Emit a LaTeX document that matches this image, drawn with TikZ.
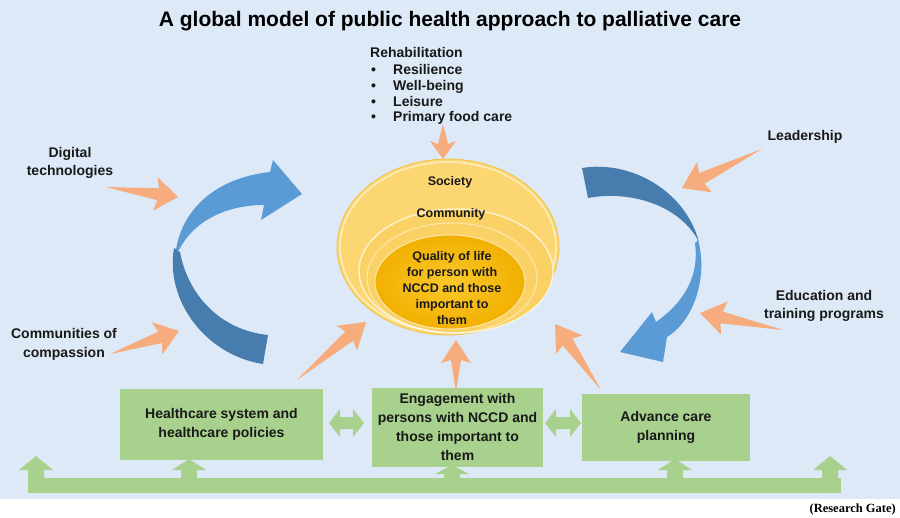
\documentclass[tikz,border=0pt]{standalone}
\usepackage{fontspec}
\setmainfont{Liberation Sans}
\newfontfamily\serifRG{Liberation Serif}
\usetikzlibrary{calc}
\definecolor{bg}{RGB}{221,233,246}
\definecolor{peach}{RGB}{246,172,124}
\definecolor{greenbox}{RGB}{169,209,142}
\definecolor{bluelight}{RGB}{90,155,213}
\definecolor{bluedark}{RGB}{70,124,174}
\definecolor{yelouter}{RGB}{252,214,112}
\definecolor{yeledge}{RGB}{238,196,80}
\definecolor{yelmid}{RGB}{250,209,100}
\definecolor{orinner}{RGB}{242,176,0}
\definecolor{orlight}{RGB}{250,200,45}

% orange tapered arrow: tail, tip, head length, head half width, shaft half width
\newcommand\oarrow[5]{%
  \fill[peach] (#1) -- ($(#2)!#3!(#1)!#5!90:(#1)$) -- ($(#2)!#3+3pt!(#1)!#4!90:(#1)$) -- (#2)
   -- ($(#2)!#3+3pt!(#1)!#4!-90:(#1)$) -- ($(#2)!#3!(#1)!#5!-90:(#1)$) -- cycle;}
% green up arrow on the bus: x, top y, head base y
\newcommand\uparr[3]{%
  \fill[greenbox] ({#1-8},480) -- ({#1-8},#3) -- ({#1-17},#3) -- (#1,#2)
   -- ({#1+17},#3) -- ({#1+8},#3) -- ({#1+8},480) -- cycle;}
% green double arrow: left x, right x, centre y
\newcommand\dblarr[3]{%
  \fill[greenbox] (#1,#3) -- ({#1+11},{#3-14}) -- ({#1+11},{#3-6}) -- ({#2-11},{#3-6})
   -- ({#2-11},{#3-14}) -- (#2,#3) -- ({#2-11},{#3+14}) -- ({#2-11},{#3+6})
   -- ({#1+11},{#3+6}) -- ({#1+11},{#3+14}) -- cycle;}

\tikzset{
  lbl/.style={font=\bfseries\fontsize{14}{17}\selectfont, inner sep=0pt, text=black!90},
  ell/.style={font=\bfseries\fontsize{12.5}{15.8}\selectfont, inner sep=0pt, text=black!90},
  greenbox/.style={fill=greenbox, draw=none, inner sep=2pt, align=center,
     font=\bfseries\fontsize{14}{19}\selectfont, text=black!90},
}

\begin{document}
\begin{tikzpicture}[x=1pt,y=-1pt]
\useasboundingbox (0,0) rectangle (900,517);
\fill[white] (0,0) rectangle (900,517);
\fill[bg] (0,0) rectangle (900,499);

% title
\node[font=\bfseries\fontsize{21}{24}\selectfont, inner sep=0pt, anchor=base] (title) at (450,26)
  {A global model of public health approach to palliative care};

% rehabilitation list
\node[lbl, anchor=base west] (rehab) at (370,57) {Rehabilitation};
\node[lbl, anchor=base west] (b1) at (371,74) {\textbullet};
\node[lbl, anchor=base west] (r1) at (393,74) {Resilience};
\node[lbl, anchor=base west] (b2) at (371,90) {\textbullet};
\node[lbl, anchor=base west] (r2) at (393,90) {Well-being};
\node[lbl, anchor=base west] (b3) at (371,106) {\textbullet};
\node[lbl, anchor=base west] (r3) at (393,106) {Leisure};
\node[lbl, anchor=base west] (b4) at (371,121) {\textbullet};
\node[lbl, anchor=base west] (r4) at (393,121) {Primary food care};

% side labels
\node[lbl, anchor=base] (dig1) at (70,157) {Digital};
\node[lbl, anchor=base] (dig2) at (70,175) {technologies};
\node[lbl, anchor=base] (com1) at (64,338) {Communities of};
\node[lbl, anchor=base] (com2) at (64,357) {compassion};
\node[lbl, anchor=base] (lead) at (805,140) {Leadership};
\node[lbl, anchor=base] (edu1) at (824,300) {Education and};
\node[lbl, anchor=base] (edu2) at (824,318) {training programs};

% bottom bus
\coordinate (busL) at (28,478);
\coordinate (busR) at (841,493);
\fill[greenbox] (busL) rectangle (busR);
\uparr{36}{456}{470}
\uparr{189}{459}{470}
\uparr{452}{465}{474}
\uparr{675}{459}{470}
\uparr{830}{456}{470}

% boxes
\node[greenbox, minimum width=203pt, minimum height=71pt] (hc) at (221.5,424)
  {Healthcare system and\\healthcare policies};
\node[greenbox, minimum width=171pt, minimum height=79pt] (eng) at (457.5,427)
  {Engagement with\\persons with NCCD and\\those important to\\them};
\node[greenbox, minimum width=168pt, minimum height=67pt] (acp) at (666,427.5)
  {Advance care\\planning};

% double arrows between boxes
\dblarr{329}{364}{423}
\dblarr{545}{581}{423}

% ellipses
\coordinate (outerC) at (448,247);
\coordinate (midC) at (456,271);
\coordinate (innerC) at (450,282);
\fill[yelouter] (outerC) ellipse [x radius=111pt, y radius=88pt];
\draw[yeledge, line width=0.8pt] (outerC) ellipse [x radius=111pt, y radius=88pt];
\draw[white, opacity=0.55, line width=1.6pt] (outerC) ellipse [x radius=108pt, y radius=85pt];
\fill[yelmid] (midC) ellipse [x radius=97pt, y radius=62pt];
\draw[white, opacity=0.7, line width=1.4pt] (midC) ellipse [x radius=97pt, y radius=62pt];
\draw[white, opacity=0.5, line width=1pt] (452,278) ellipse [x radius=85pt, y radius=55pt];
\shade[inner color=orlight, outer color=orinner] (innerC) ellipse [x radius=75pt, y radius=47pt];
\draw[white, opacity=0.6, line width=1pt] (innerC) ellipse [x radius=75pt, y radius=47pt];

\node[ell, anchor=base] (soc) at (450,185) {Society};
\node[ell, anchor=base] (comm) at (451,217) {Community};
\node[ell, anchor=center, align=center] (qol) at (452,288)
  {Quality of life\\for person with\\NCCD and those\\important to\\them};

% blue circular arrows
\fill[bluelight] (176,250) .. controls (182,210) and (215,178) .. (270,172) -- (273,160)
  -- (302,194) -- (261,220) -- (264,205) .. controls (225,205) and (193,222) .. (179,250) -- cycle;
\fill[bluedark] (174,248) .. controls (165,300) and (205,355) .. (263,364) -- (268,335)
  .. controls (220,330) and (188,295) .. (180,252) -- cycle;
\fill[bluedark] (582,168) .. controls (630,160) and (685,190) .. (699,242)
  .. controls (680,205) and (630,190) .. (588,198) -- cycle;
\fill[bluelight] (698,240) .. controls (708,275) and (695,320) .. (667,337) -- (663,362)
  -- (620,352) -- (652,312) -- (656,322) .. controls (680,305) and (700,280) .. (695,243) -- cycle;

% orange arrows
\coordinate (digT) at (106,187);  \coordinate (digH) at (178,197);
\coordinate (comT) at (110,354);  \coordinate (comH) at (179,331);
\coordinate (leadT) at (762,149); \coordinate (leadH) at (682,188);
\coordinate (eduT) at (783,330);  \coordinate (eduH) at (700,313);
\coordinate (rehT) at (443,124);  \coordinate (rehH) at (443,159);
\coordinate (hcT) at (297,380);   \coordinate (hcH) at (366,322);
\coordinate (engT) at (456,392);  \coordinate (engH) at (456,340);
\coordinate (acpT) at (601,390);  \coordinate (acpH) at (555,324);
\oarrow{digT}{digH}{20pt}{17pt}{6pt}
\oarrow{comT}{comH}{20pt}{17pt}{6pt}
\oarrow{leadT}{leadH}{22pt}{17pt}{6pt}
\oarrow{eduT}{eduH}{22pt}{17pt}{6pt}
\oarrow{rehT}{rehH}{15pt}{13pt}{5pt}
\oarrow{hcT}{hcH}{22pt}{16pt}{6pt}
\oarrow{engT}{engH}{20pt}{15pt}{5pt}
\oarrow{acpT}{acpH}{22pt}{16pt}{6pt}

% source
\node[font=\serifRG\bfseries\fontsize{12.5}{14}\selectfont, anchor=base east, inner sep=0pt] (src) at (896,512) {(Research Gate)};
\end{tikzpicture}
\end{document}
